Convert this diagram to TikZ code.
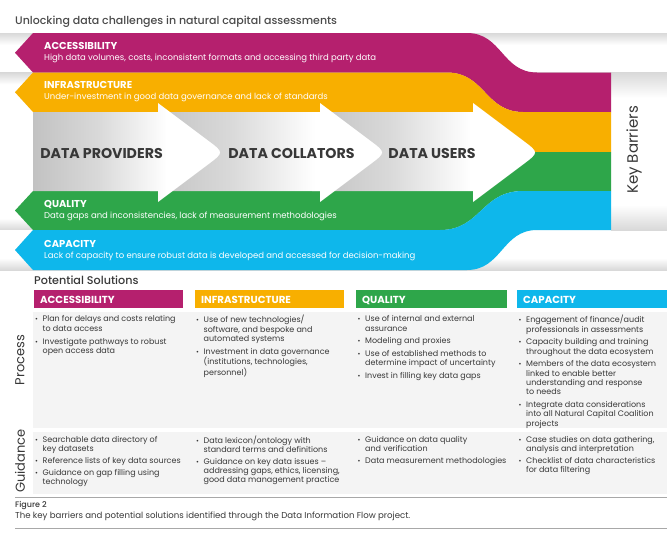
\documentclass[tikz,border=0pt]{standalone}
\usepackage{fontspec}
\setmainfont{Poppins}
\newfontfamily\pop{Poppins}
\newfontfamily\popm{Poppins}[UprightFont=* Medium]
\usepackage{array}
\definecolor{mag}{HTML}{B5206E}
\definecolor{yel}{HTML}{F8AF00}
\definecolor{grn}{HTML}{2EA64A}
\definecolor{cyn}{HTML}{0EB7EB}
\definecolor{ink}{HTML}{383838}
\definecolor{tink}{HTML}{4A4A4A}
\definecolor{panel}{HTML}{F4F4F4}
\definecolor{rule}{HTML}{A8A8A8}
\pgfdeclarehorizontalshading{arrowsh}{100bp}{color(0bp)=(gray!48); color(25bp)=(gray!48); color(42bp)=(gray!30); color(60bp)=(white); color(100bp)=(white)}
\pgfdeclareverticalshading{rowtopsh}{100bp}{color(0bp)=(white); color(60bp)=(white); color(75bp)=(gray!30); color(100bp)=(gray!30)}
\pgfdeclareverticalshading{rowbotsh}{100bp}{color(0bp)=(gray!30); color(25bp)=(gray!30); color(40bp)=(white); color(100bp)=(white)}
\pgfdeclareverticalshading{panelsh}{100bp}{color(0bp)=(gray!30); color(25bp)=(gray!30); color(33bp)=(white); color(67bp)=(white); color(75bp)=(gray!30); color(100bp)=(gray!30)}
\tikzset{
  bandhead/.style={anchor=base west, inner sep=0, text=white, font=\pop\bfseries\fontsize{10}{12}\selectfont},
  bandsub/.style={anchor=base west, inner sep=0, text=white, font=\pop\fontsize{8.5}{9}\selectfont},
  flowlab/.style={inner sep=0, text=ink, font=\pop\bfseries\fontsize{14.2}{16}\selectfont},
  barhead/.style={anchor=base west, inner sep=0, text=white, font=\pop\bfseries\fontsize{10.2}{12}\selectfont},
  sidelab/.style={inner sep=0, rotate=90, text=ink, font=\pop\fontsize{13}{15}\selectfont},
  coltext/.style={anchor=north west, inner sep=0, text=ink, font=\pop\fontsize{8}{9.3}\selectfont},
  guidetext/.style={anchor=north west, inner sep=0, text=ink, font=\pop\fontsize{8}{9}\selectfont},
}
\newcommand{\bu}{{\scriptsize\textbullet}}
\begin{document}
\begin{tikzpicture}[x=1pt,y=-1pt]
\useasboundingbox (0,0) rectangle (667,536);
% title
\node[anchor=base west, inner sep=0, text=tink, font=\popm\fontsize{11}{12}\selectfont] (title) at (15,24) {Unlocking data challenges in natural capital assessments};
% row backgrounds
\shade[shading=rowtopsh] (0,33) rectangle (667,72.5);
\shade[shading=rowtopsh] (0,72.5) rectangle (667,112);
\shade[shading=rowbotsh] (0,191) rectangle (667,230);
\shade[shading=rowbotsh] (0,230) rectangle (667,270);
\shade[shading=panelsh] (611,72.5) rectangle (667,230);
% bands
\fill[mag] (33,33) -- (467,33) .. controls (502,33) and (502,72.5) .. (537,72.5) -- (611,72.5) -- (611,112) -- (523,112) .. controls (485,112) and (485,72.5) .. (447,72.5) -- (33,72.5) -- (15,52.75) -- cycle;
\fill[yel] (33,72.5) -- (447,72.5) .. controls (485,72.5) and (485,112) .. (523,112) -- (611,112) -- (611,152) -- (520,152) .. controls (482,152) and (482,112) .. (445,112) -- (33,112) -- (15,92.25) -- cycle;
\fill[grn] (33,191) -- (445,191) .. controls (482,191) and (482,152) .. (520,152) -- (611,152) -- (611,191) -- (523,191) .. controls (481,191) and (481,230) .. (440,230) -- (33,230) -- (15,210.5) -- cycle;
\fill[cyn] (33,230) -- (440,230) .. controls (481,230) and (481,191) .. (523,191) -- (611,191) -- (611,230) -- (537,230) .. controls (502,230) and (502,270) .. (467,270) -- (33,270) -- (15,250) -- cycle;
% flow arrows (head base x0, rounded tip)
\shade[shading=arrowsh] (312,112) -- (473,112) -- (473,103) -- (523,140.5) .. controls (539,152.5) .. (523,164.5) -- (473,202) -- (473,191) -- (312,191) -- cycle;
\shade[shading=arrowsh] (150,112) -- (320,112) -- (320,103) -- (370,140.5) .. controls (386,152.5) .. (370,164.5) -- (320,202) -- (320,191) -- (150,191) -- cycle;
\shade[shading=arrowsh] (33,112) -- (158,112) -- (158,103) -- (208,140.5) .. controls (224,152.5) .. (208,164.5) -- (158,202) -- (158,191) -- (33,191) -- cycle;
\node[flowlab] (prov) at (101.5,153.5) {DATA PROVIDERS};
\node[flowlab] (coll) at (291.5,153.5) {DATA COLLATORS};
\node[flowlab] (users) at (432,153.5) {DATA USERS};
% band texts
\node[bandhead] (bA) at (44,49.3) {ACCESSIBILITY};
\node[bandsub] (sA) at (44,60) {High data volumes, costs, inconsistent formats and accessing third party data};
\node[bandhead] (bI) at (44,88) {INFRASTRUCTURE};
\node[bandsub] (sI) at (44,99) {Under-investment in good data governance and lack of standards};
\node[bandhead] (bQ) at (44,207.7) {QUALITY};
\node[bandsub] (sQ) at (44,218.5) {Data gaps and inconsistencies, lack of measurement methodologies};
\node[bandhead] (bC) at (44,247) {CAPACITY};
\node[bandsub] (sC) at (44,258) {Lack of capacity to ensure robust data is developed and accessed for decision-making};
\node[sidelab, font=\pop\fontsize{15}{17}\selectfont] (keyb) at (634,150) {Key Barriers};
% potential solutions
\node[anchor=base west, inner sep=0, text=ink, font=\popm\fontsize{11.2}{12}\selectfont] (pot) at (34,284.5) {Potential Solutions};
\fill[mag] (34,290) rectangle (183,308.3);
\fill[yel] (195,290) rectangle (344,308.3);
\fill[grn] (356,290) rectangle (507,308.3);
\fill[cyn] (517,290) rectangle (667,308.3);
\node[barhead] (hA) at (40,303.3) {ACCESSIBILITY};
\node[barhead] (hI) at (201,303.3) {INFRASTRUCTURE};
\node[barhead] (hQ) at (362,303.3) {QUALITY};
\node[barhead] (hC) at (523,303.3) {CAPACITY};
\fill[panel] (33,312) rectangle (667,428);
\fill[panel] (33,432) rectangle (667,494);
\node[sidelab] (proc) at (20,360) {Process};
\node[sidelab] (guid) at (20,461) {Guidance};
% process columns
\node[coltext] (pA) at (35,315.2) {\begin{tabular}{@{}p{7.5pt}@{}l@{}}
\bu&Plan for delays and costs relating\\ &to data access\\[3.7pt]
\bu&Investigate pathways to robust\\ &open access data
\end{tabular}};
\node[coltext] (pI) at (196,315.2) {\begin{tabular}{@{}p{7.5pt}@{}l@{}}
\bu&Use of new technologies/\\ &software, and bespoke and\\ &automated systems\\[3.7pt]
\bu&Investment in data governance\\ &(institutions, technologies,\\ &personnel)
\end{tabular}};
\node[coltext] (pQ) at (357.5,315.2) {\begin{tabular}{@{}p{7.5pt}@{}l@{}}
\bu&Use of internal and external\\ &assurance\\[3.4pt]
\bu&Modeling and proxies\\[3.4pt]
\bu&Use of established methods to\\ &determine impact of uncertainty\\[3.4pt]
\bu&Invest in filling key data gaps
\end{tabular}};
\node[coltext] (pC) at (518.5,315.2) {\begin{tabular}{@{}p{7.5pt}@{}l@{}}
\bu&Engagement of finance/audit\\ &professionals in assessments\\[3.4pt]
\bu&Capacity building and training\\ &throughout the data ecosystem\\[3.4pt]
\bu&Members of the data ecosystem\\ &linked to enable better\\ &understanding and response\\ &to needs\\[3.4pt]
\bu&Integrate data considerations\\ &into all Natural Capital Coalition\\ &projects
\end{tabular}};
% guidance columns
\node[guidetext] (gA) at (35,436) {\begin{tabular}{@{}p{7.5pt}@{}l@{}}
\bu&Searchable data directory of\\ &key datasets\\[3pt]
\bu&Reference lists of key data sources\\[3pt]
\bu&Guidance on gap filling using\\ &technology
\end{tabular}};
\node[guidetext] (gI) at (196,436) {\begin{tabular}{@{}p{7.5pt}@{}l@{}}
\bu&Data lexicon/ontology with\\ &standard terms and definitions\\[3pt]
\bu&Guidance on key data issues –\\ &addressing gaps, ethics, licensing,\\ &good data management practice
\end{tabular}};
\node[guidetext] (gQ) at (357.5,436) {\begin{tabular}{@{}p{7.5pt}@{}l@{}}
\bu&Guidance on data quality\\ &and verification\\[3pt]
\bu&Data measurement methodologies
\end{tabular}};
\node[guidetext] (gC) at (518.5,436) {\begin{tabular}{@{}p{7.5pt}@{}l@{}}
\bu&Case studies on data gathering,\\ &analysis and interpretation\\[3pt]
\bu&Checklist of data characteristics\\ &for data filtering
\end{tabular}};
% caption
\draw[rule, line width=1.5pt] (15,497.5) -- (667,497.5);
\node[anchor=base west, inner sep=0, text=ink, font=\popm\fontsize{8}{9}\selectfont] (fig) at (15,507) {Figure 2};
\node[anchor=base west, inner sep=0, text=ink, font=\pop\fontsize{8.6}{9}\selectfont] (cap) at (15,518.7) {The key barriers and potential solutions identified through the Data Information Flow project.};
\draw[rule, line width=1.2pt] (15,528.5) -- (667,528.5);
\end{tikzpicture}
\end{document}
